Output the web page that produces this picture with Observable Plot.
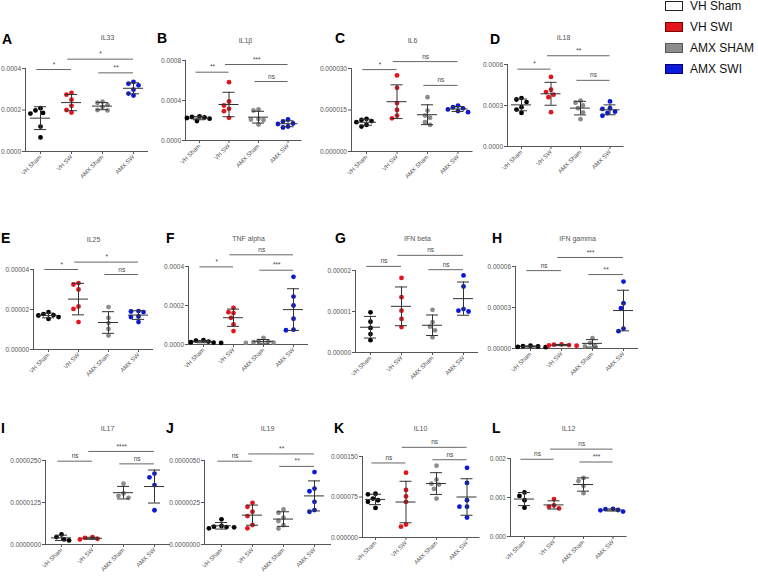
<!DOCTYPE html>
<html><head><meta charset="utf-8">
<script src="https://cdn.jsdelivr.net/npm/d3@7"></script>
<script src="https://cdn.jsdelivr.net/npm/@observablehq/plot@0.6"></script>
<style>
body{margin:0;background:#fff;}
#fig{position:relative;width:758px;height:579px;background:#fff;font-family:"Liberation Sans",Arial,sans-serif;overflow:hidden}
.letter{position:absolute;font-weight:bold;font-size:14px;line-height:14px;color:#000}
.legbox{position:absolute;width:16px;height:8px;border:1px solid #000}
.legtxt{position:absolute;font-size:12px;line-height:12px;color:#111;white-space:nowrap}
svg{position:absolute}
</style></head><body><div id="fig"></div>
<script>
// ---------- data ----------
const groups = ["VH Sham", "VH SW", "AMX Sham", "AMX SW"];
const legendLabels = ["VH Sham", "VH SWI", "AMX SHAM", "AMX SWI"];
const groupColors = ["#000000", "#e3141c", "#8c8c8c", "#0b1ad8"];
const legendFill = ["#ffffff", "#e3141c", "#8c8c8c", "#0b1ad8"];
const legendStroke = ["#222222", "#7a0000", "#555555", "#000070"];
const panelLetters = ["A","B","C","D","E","F","G","H","I","J","K","L"];
const panelTitles = ["IL33","IL1\u03b2","IL6","IL18","IL25","TNF alpha","IFN beta","IFN gamma","IL17","IL19","IL10","IL12"];
const yTickLabels = [
  ["0.0000","0.0002","0.0004"],
  ["0.0000","0.0004","0.0008"],
  ["0.000000","0.000015","0.000030"],
  ["0.0000","0.0003","0.0006"],
  ["0.00000","0.00002","0.00004"],
  ["0.0000","0.0002","0.0004"],
  ["0.00000","0.00001","0.00002"],
  ["0.00000","0.00003","0.00006"],
  ["0.0000000","0.0000125","0.0000250"],
  ["0.0000000","0.0000025","0.0000050"],
  ["0.000000","0.000075","0.000150"],
  ["0.000","0.001","0.002"]
];

const IL33 = [
  [0.000209, 0.000198, 0.000186, 0.000183, 0.000120, 0.000068],
  [0.000282, 0.000274, 0.000250, 0.000220, 0.000200, 0.000188],
  [0.000240, 0.000235, 0.000225, 0.000215, 0.000200, 0.000198],
  [0.000335, 0.000327, 0.000319, 0.000298, 0.000279, 0.000270]
];
const IL33_sig = [["VH Sham","VH SW","*",0.000395],["VH SW","AMX SW","*",0.000445],["AMX Sham","AMX SW","**",0.000379]];

const IL1B = [
  [0.000242, 0.000235, 0.000230, 0.000225, 0.000218, 0.000195],
  [0.000583, 0.000390, 0.000350, 0.000317, 0.000293, 0.000227],
  [0.000310, 0.000300, 0.000215, 0.000210, 0.000205, 0.000160],
  [0.000210, 0.000190, 0.000170, 0.000165, 0.000140, 0.000130]
];
const IL1B_sig = [["VH Sham","VH SW","**",0.000683],["VH SW","AMX SW","***",0.00076],["AMX Sham","AMX SW","ns",0.00059]];

const IL6 = [
  [0.0000118, 0.0000114, 0.0000110, 0.0000106, 0.0000096, 0.0000090],
  [0.0000275, 0.0000230, 0.0000175, 0.0000150, 0.0000130, 0.0000120],
  [0.0000196, 0.0000148, 0.0000130, 0.0000122, 0.0000106, 0.0000096],
  [0.0000166, 0.0000160, 0.0000156, 0.0000152, 0.0000146, 0.0000142]
];
const IL6_sig = [["VH Sham","VH SW","*",0.0000296],["VH SW","AMX SW","ns",0.0000325],["AMX Sham","AMX SW","ns",0.0000239]];

const IL18 = [
  [0.000354, 0.000344, 0.000325, 0.000288, 0.000270, 0.000246],
  [0.000509, 0.000416, 0.000398, 0.000379, 0.000361, 0.000251],
  [0.000335, 0.000320, 0.000300, 0.000280, 0.000250, 0.000200],
  [0.000330, 0.000280, 0.000275, 0.000255, 0.000245, 0.000225]
];
const IL18_sig = [["VH Sham","VH SW","*",0.000566],["VH SW","AMX SW","**",0.000664],["AMX Sham","AMX SW","ns",0.000484]];

const IL25 = [
  [0.0000187, 0.0000177, 0.0000172, 0.0000170, 0.0000162, 0.0000153],
  [0.0000332, 0.0000325, 0.0000300, 0.0000215, 0.0000203, 0.0000137],
  [0.0000212, 0.0000158, 0.0000132, 0.0000103, 0.0000070],
  [0.0000192, 0.0000190, 0.0000187, 0.0000165, 0.0000162, 0.0000137]
];
const IL25_sig = [["VH Sham","VH SW","*",0.0000400],["VH SW","AMX SW","*",0.0000437],["AMX Sham","AMX SW","ns",0.0000375]];

const TNFa = [
  [0.000022, 0.000020, 0.000015, 0.000012, 0.000010, 0.000008],
  [0.000188, 0.000166, 0.000161, 0.000137, 0.000103, 0.000069],
  [0.000034, 0.000018, 0.000015, 0.000012, 0.000010, 0.000008],
  [0.000347, 0.000246, 0.000200, 0.000132, 0.000076, 0.000073]
];
const TNFa_sig = [["VH Sham","VH SW","*",0.000398],["VH SW","AMX SW","ns",0.00046],["AMX Sham","AMX SW","***",0.000381]];

const IFNb = [
  [0.0000098, 0.0000075, 0.0000060, 0.0000045, 0.0000030],
  [0.0000182, 0.0000135, 0.0000102, 0.0000082, 0.0000062],
  [0.0000104, 0.0000074, 0.0000063, 0.0000054, 0.0000037],
  [0.0000188, 0.0000161, 0.0000106, 0.0000102, 0.0000100]
];
const IFNb_sig = [["VH Sham","VH SW","ns",0.0000210],["VH SW","AMX SW","ns",0.0000237],["AMX Sham","AMX SW","ns",0.0000202]];

const IFNg = [
  [0.0000020, 0.0000018, 0.0000015, 0.0000012, 0.0000010],
  [0.0000030, 0.0000028, 0.0000025, 0.0000022, 0.0000020],
  [0.0000075, 0.0000040, 0.0000020, 0.0000015],
  [0.0000490, 0.0000331, 0.0000295, 0.0000146, 0.0000127]
];
const IFNg_sig = [["VH Sham","VH SW","ns",0.0000570],["VH SW","AMX SW","***",0.0000666],["AMX Sham","AMX SW","**",0.0000541]];

const IL17 = [
  [0.0000030, 0.0000022, 0.0000015, 0.0000012],
  [0.0000022, 0.0000020, 0.0000017, 0.0000015],
  [0.0000181, 0.0000152, 0.0000145, 0.0000139],
  [0.0000211, 0.0000200, 0.0000177, 0.0000102]
];
const IL17_sig = [["VH Sham","VH SW","ns",0.0000248],["VH SW","AMX SW","****",0.0000277],["AMX Sham","AMX SW","ns",0.0000240]];

const IL19 = [
  [0.00000150, 0.00000110, 0.00000106, 0.00000104, 0.00000102, 0.00000096],
  [0.00000248, 0.00000224, 0.00000195, 0.00000169, 0.00000116, 0.00000096],
  [0.00000209, 0.00000189, 0.00000160, 0.00000140, 0.00000115, 0.00000095],
  [0.00000431, 0.00000333, 0.00000317, 0.00000254, 0.00000205, 0.00000195]
];
const IL19_sig = [["VH Sham","VH SW","ns",0.00000496],["VH SW","AMX SW","**",0.00000539],["AMX Sham","AMX SW","**",0.00000465]];

const IL10 = [
  [0.000081, 0.000080, 0.000072, 0.000069, 0.000066, 0.000055],
  [0.000120, 0.000088, 0.000076, 0.000066, 0.000024, 0.000020],
  [0.000133, 0.000107, 0.0000996, 0.000098, 0.000090, 0.000072],
  [0.000129, 0.000101, 0.000069, 0.000057, 0.000057, 0.000037]
];
const IL10_sig = [["VH Sham","VH SW","ns",0.000138],["VH SW","AMX SW","ns",0.000167],["AMX Sham","AMX SW","ns",0.000144]];

const IL12 = [
  [0.00113, 0.00104, 0.00093, 0.00074],
  [0.00096, 0.00080, 0.00076, 0.00072],
  [0.00150, 0.00142, 0.00130, 0.00111],
  [0.00071, 0.00070, 0.00068, 0.00067, 0.00064]
];
const IL12_sig = [["VH Sham","VH SW","ns",0.00198],["VH SW","AMX SW","ns",0.00224],["AMX Sham","AMX SW","***",0.00191]];

const panelValues = [IL33, IL1B, IL6, IL18, IL25, TNFa, IFNb, IFNg, IL17, IL19, IL10, IL12];
const panelSig = [IL33_sig, IL1B_sig, IL6_sig, IL18_sig, IL25_sig, TNFa_sig, IFNb_sig, IFNg_sig, IL17_sig, IL19_sig, IL10_sig, IL12_sig];

// ---------- layout (pixel geometry of each panel) ----------
const layout = [
  {axisX:25,  first:40,  step:31,   yTop:68,  y0:151, lx:2,   ly:34,  tx:107, ty:37},
  {axisX:185, first:199, step:29.5, yTop:60,  y0:140, lx:157, ly:33,  tx:245, ty:40},
  {axisX:351, first:366, step:30.5, yTop:68,  y0:151, lx:335, ly:33,  tx:412, ty:40},
  {axisX:507, first:521, step:29.5, yTop:64,  y0:146, lx:490, ly:34,  tx:563, ty:37},
  {axisX:33,  first:48,  step:30,   yTop:269, y0:349, lx:1,   ly:233, tx:93,  ty:239},
  {axisX:188, first:203, step:30,   yTop:266, y0:344, lx:166, ly:233, tx:248, ty:238},
  {axisX:355, first:370, step:31,   yTop:270, y0:352, lx:335, ly:233, tx:417, ty:238},
  {axisX:515, first:530, step:31,   yTop:266, y0:348, lx:492, ly:233, tx:577, ty:238},
  {axisX:45,  first:61,  step:31,   yTop:460, y0:544, lx:1,   ly:423, tx:107, ty:428},
  {axisX:204, first:221, step:31,   yTop:460, y0:544, lx:166, ly:423, tx:267, ty:428},
  {axisX:362, first:375, step:30.5, yTop:456, y0:537, lx:334, ly:423, tx:420, ty:428},
  {axisX:510, first:524, step:29.5, yTop:458, y0:536, lx:492, ly:423, tx:568, ty:428}
];

const R = 2.4;
function swarm(vals, pxPerUnit) {
  const order = d3.range(vals.length).sort((a, b) => d3.descending(vals[a], vals[b]));
  const placed = [];
  const off = new Array(vals.length).fill(0);
  const minD = 2 * R + 0.3;
  for (const i of order) {
    const py = vals[i] * pxPerUnit;
    for (let k = 0; k < 30; k++) {
      const cand = k === 0 ? 0 : (k % 2 ? -1 : 1) * Math.ceil(k / 2) * R * 1.05;
      if (placed.every(p => (p.x - cand) ** 2 + (p.y - py) ** 2 >= minD * minD)) {
        off[i] = cand; placed.push({x: cand, y: py}); break;
      }
    }
  }
  return off;
}

const fig = document.getElementById("fig");

panelValues.forEach((vals, pi) => {
  const L = layout[pi];
  const ticks = yTickLabels[pi];
  const sig = panelSig[pi];
  const maxTick = Number(ticks[ticks.length - 1]);
  const d = (L.first - L.axisX) / L.step;
  const xlo = -d, xhi = 3 + d;
  const plotW = (xhi - xlo) * L.step;
  const plotH = L.y0 - L.yTop;
  const mL = 50, mR = 6, mT = 34, mB = 36;
  const pxPerUnit = plotH / maxTick;
  const pts = [];
  vals.forEach((arr, gi) => {
    const offs = swarm(arr, pxPerUnit);
    arr.forEach((v, k) => pts.push({g: gi, x: gi + offs[k] / L.step, y: v}));
  });
  const stats = vals.map((arr, gi) => ({g: gi, mean: d3.mean(arr), sd: d3.deviation(arr)}));
  const tickMap = new Map(ticks.map(t => [Number(t), t]));
  const hw = 10 / L.step, cw = 6 / L.step;
  const sigData = sig.map(s => ({a: groups.indexOf(s[0]), b: groups.indexOf(s[1]), label: s[2], y: s[3]}));

  const svg = Plot.plot({
    width: mL + plotW + mR,
    height: mT + plotH + mB,
    marginLeft: mL, marginRight: mR, marginTop: mT, marginBottom: mB,
    x: {domain: [xlo, xhi], axis: null},
    y: {domain: [0, maxTick], axis: null},
    color: {type: "ordinal", domain: [0, 1, 2, 3], range: groupColors},
    style: {background: "transparent", color: "#555", fontFamily: "Liberation Sans, Arial, sans-serif", fontSize: "6.5px", overflow: "visible"},
    marks: [
      Plot.axisY({ticks: [...tickMap.keys()], tickFormat: v => tickMap.get(v), tickSize: 3, tickPadding: 1.5, fontSize: 6.5, stroke: "#555"}),
      Plot.axisX({ticks: [0, 1, 2, 3], tickFormat: i => groups[i], tickRotate: -45, tickSize: 3, tickPadding: 1.5, fontSize: 6, stroke: "#555"}),
      Plot.ruleX([xlo], {y1: 0, y2: maxTick, stroke: "#555", strokeWidth: 1}),
      Plot.ruleY([0], {x1: xlo, x2: xhi, stroke: "#555", strokeWidth: 1}),
      Plot.text([panelTitles[pi]], {frameAnchor: "top-left", dx: L.tx - L.axisX, dy: L.ty - L.yTop, textAnchor: "middle", lineAnchor: "middle", fontSize: 7, fill: "#555"}),
      Plot.ruleY(sigData, {y: "y", x1: s => s.a - 0.12, x2: "b", stroke: "#666", strokeWidth: 1}),
      Plot.text(sigData, {x: s => (s.a - 0.12 + s.b) / 2, y: "y", text: "label", dy: -5, fontSize: 6.5, fill: "#444"}),
      Plot.dot(pts, {x: "x", y: "y", r: R, fill: "g", stroke: null}),
      Plot.ruleY(stats, {y: "mean", x1: s => s.g - hw, x2: s => s.g + hw, stroke: "#333", strokeWidth: 1}),
      Plot.ruleY(stats, {y: s => s.mean + s.sd, x1: s => s.g - cw, x2: s => s.g + cw, stroke: "#333", strokeWidth: 1}),
      Plot.ruleY(stats, {y: s => Math.max(0, s.mean - s.sd), x1: s => s.g - cw, x2: s => s.g + cw, stroke: "#333", strokeWidth: 1}),
      Plot.ruleX(stats, {x: "g", y1: s => Math.max(0, s.mean - s.sd), y2: s => s.mean + s.sd, stroke: "#333", strokeWidth: 1})
    ]
  });
  svg.style.left = (L.axisX - mL) + "px";
  svg.style.top = (L.yTop - mT) + "px";
  fig.appendChild(svg);

  const l = document.createElement("div");
  l.className = "letter"; l.textContent = panelLetters[pi];
  l.style.left = L.lx + "px"; l.style.top = (L.ly - 2) + "px";
  fig.appendChild(l);
});

legendLabels.forEach((lab, i) => {
  const b = document.createElement("div");
  b.className = "legbox";
  b.style.left = "665px"; b.style.top = (1 + 21 * i) + "px";
  b.style.background = legendFill[i]; b.style.borderColor = legendStroke[i];
  fig.appendChild(b);
  const t = document.createElement("div");
  t.className = "legtxt"; t.textContent = lab;
  t.style.left = "690px"; t.style.top = (21 * i) + "px";
  fig.appendChild(t);
});
</script></body></html>
